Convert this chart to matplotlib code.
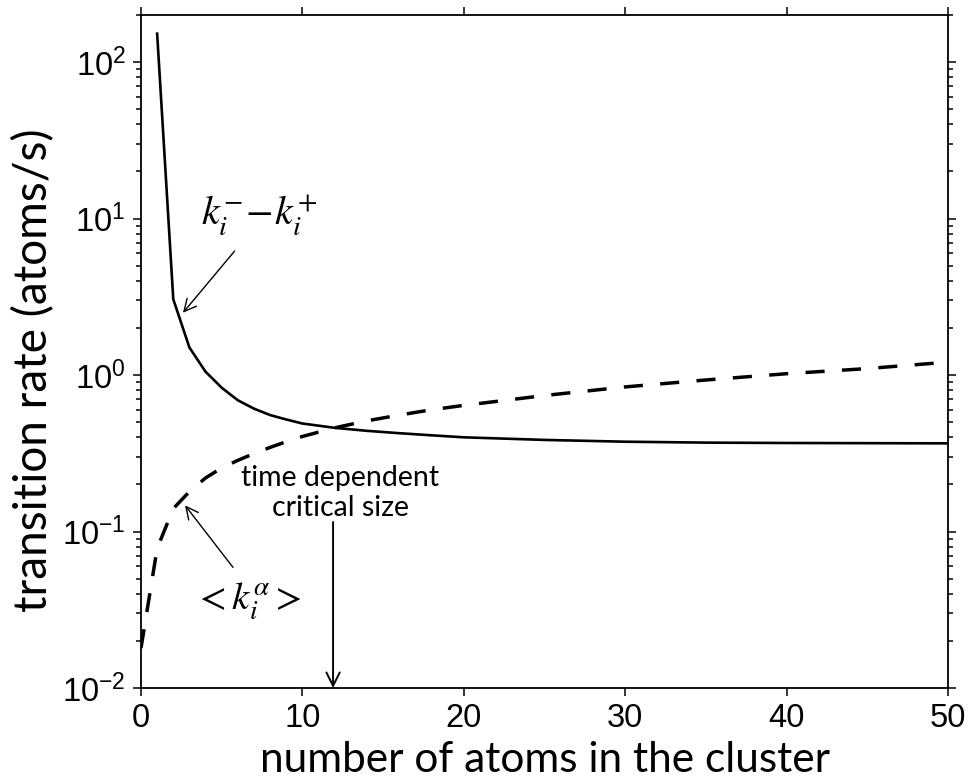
import matplotlib
matplotlib.use("Agg")
import matplotlib.pyplot as plt
from matplotlib.ticker import LogLocator, FixedLocator, FuncFormatter, NullFormatter
import numpy as np

# ---- data ----
net_x = [1, 2, 3, 4, 5, 6, 7, 8, 9, 10, 12, 14, 16, 18, 20, 25, 30, 35, 40, 45, 50]
net_y = [152, 3.05, 1.5, 1.05, 0.83, 0.69, 0.61, 0.555, 0.52, 0.49, 0.46, 0.44,
         0.425, 0.412, 0.40, 0.385, 0.375, 0.37, 0.368, 0.367, 0.366]

alpha_x = [0, 1, 2, 3, 4, 5, 6, 7, 8, 9, 10, 12, 14, 16, 18, 20, 25, 30, 35, 40, 45, 50]
alpha_y = [0.018, 0.078, 0.14, 0.18, 0.22, 0.255, 0.285, 0.315, 0.345, 0.375, 0.405,
           0.46, 0.51, 0.555, 0.60, 0.64, 0.74, 0.84, 0.93, 1.02, 1.10, 1.21]

critical_size = 11.9

x_ticks = [0, 10, 20, 30, 40, 50]
xlabel = "number of atoms in the cluster"
ylabel = "transition rate (atoms/s)"

plt.rcParams['font.family'] = ['Liberation Sans', 'DejaVu Sans']
plt.rcParams['mathtext.fontset'] = 'stix'

fig = plt.figure(figsize=(9.69, 7.84), dpi=100)
ax = fig.add_axes([141/969, 1-688/784, (948-141)/969, (688-15)/784])

ax.plot(net_x, net_y, color='black', lw=1.9, solid_joinstyle='miter')
ax.plot(alpha_x, alpha_y, color='black', lw=2.5, dashes=(5.5, 5.0))

ax.set_yscale('log')
ax.set_xlim(0, 50)
ax.set_ylim(0.01, 200)

ax.xaxis.set_major_locator(FixedLocator(x_ticks))
ax.yaxis.set_major_locator(LogLocator(base=10, numticks=10))
ax.yaxis.set_minor_locator(LogLocator(base=10, subs=np.arange(2, 10), numticks=20))
ax.yaxis.set_minor_formatter(NullFormatter())
ax.yaxis.set_major_formatter(FuncFormatter(
    lambda v, p: r'$\mathregular{10^{%d}}$' % int(round(np.log10(v)))))

ax.tick_params(which='both', direction='out', top=True, right=True,
               labeltop=False, labelright=False, width=1.1, colors='black')
ax.tick_params(which='major', length=6, labelsize=23.5, pad=5)
ax.tick_params(which='minor', length=3.5)
for s in ax.spines.values():
    s.set_linewidth(1.3)

ax.set_xlabel(xlabel, fontsize=30.5, family='Lato', labelpad=5)
ax.set_ylabel(ylabel, fontsize=33, family='Lato')
ax.yaxis.set_label_coords(-0.106, 0.4725)

arrow_kw = dict(arrowstyle='->', color='black', lw=1.0, mutation_scale=22,
                shrinkA=0, shrinkB=0)

ax.text(7.3, 10.5, r'$k_i^{-}\!-\!k_i^{+}$', fontsize=29, ha='center', va='center')
ax.annotate('', xy=(2.6, 2.5), xytext=(5.8, 6.2), arrowprops=arrow_kw)

ax.text(6.6, 0.036, r'$<k_i^{\alpha}>$', fontsize=28, ha='center', va='center')
ax.annotate('', xy=(2.73, 0.147), xytext=(5.7, 0.059), arrowprops=arrow_kw)

ax.text(12.33, 0.125, "time dependent\ncritical size", fontsize=20.5, family='Lato',
        ha='center', va='baseline', linespacing=1.2)
ax.annotate('', xy=(critical_size, 0.01), xytext=(critical_size, 0.115),
            arrowprops=dict(arrowstyle='->', color='black', lw=1.4,
                            mutation_scale=24, shrinkA=0, shrinkB=0))

fig.savefig('out.png', dpi=100)
